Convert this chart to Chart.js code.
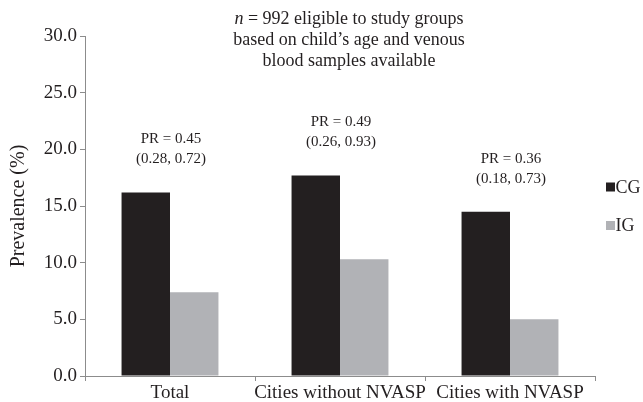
<!DOCTYPE html>
<html>
<head>
<meta charset="utf-8">
<script src="https://cdn.jsdelivr.net/npm/chart.js@4/dist/chart.umd.min.js"></script>
<style>
  html, body { margin: 0; padding: 0; background: #fff; }
  #wrap { width: 643px; height: 402px; }
</style>
</head>
<body>
<div id="wrap"><canvas id="myChart" width="643" height="402"></canvas></div>
<script>
// values
const categories = ['Total', 'Cities without NVASP', 'Cities with NVASP'];
const seriesNames = ['CG', 'IG'];
const cgValues = [16.2, 17.7, 14.5];
const igValues = [7.4, 10.3, 5.0];
const prLabels = ['PR = 0.45', 'PR = 0.49', 'PR = 0.36'];
const ciLabels = ['(0.28, 0.72)', '(0.26, 0.93)', '(0.18, 0.73)'];
const yTicks = [0, 5, 10, 15, 20, 25, 30];
const titleLines = ['= 992 eligible to study groups', 'based on child\u2019s age and venous', 'blood samples available'];

const serif = '"Liberation Serif", "Times New Roman", serif';
const ink = '#231f20';
const axisGrey = '#8c8c8c';

// title, PR annotations and legend drawn on top
const extras = {
    id: 'extras',
    afterDraw(chart) {
        const ctx = chart.ctx;
        const x = chart.scales.x, y = chart.scales.y;
        ctx.save();
        ctx.fillStyle = ink;
        ctx.textBaseline = 'middle';

        // title, first line starts with italic n
        const cx = 349;
        const rest = ' ' + titleLines[0];
        ctx.font = 'italic 18px ' + serif;
        const wn = ctx.measureText('n').width;
        ctx.font = '18px ' + serif;
        const wr = ctx.measureText(rest).width;
        let startX = cx - (wn + wr) / 2;
        ctx.textAlign = 'left';
        ctx.font = 'italic 18px ' + serif;
        ctx.fillText('n', startX, 19);
        ctx.font = '18px ' + serif;
        ctx.fillText(rest, startX + wn, 19);
        ctx.textAlign = 'center';
        ctx.fillText(titleLines[1], cx, 40);
        ctx.fillText(titleLines[2], cx, 61);

        // PR labels above each group
        ctx.font = '15px ' + serif;
        categories.forEach((c, i) => {
            const px = x.getPixelForValue(i);
            const top = y.getPixelForValue(Math.max(cgValues[i], igValues[i]));
            ctx.fillText(prLabels[i], px + 1, top - 53);
            ctx.fillText(ciLabels[i], px + 1, top - 33);
        });

        // legend at right
        ctx.textAlign = 'left';
        ctx.font = '18px ' + serif;
        chart.data.datasets.forEach((ds, i) => {
            const ly = 187 + i * 38.5;
            ctx.fillStyle = ds.backgroundColor;
            ctx.fillRect(606, ly - 4.5, 9, 9);
            ctx.fillStyle = ink;
            ctx.fillText(ds.label, 615.5, ly + 1);
        });
        ctx.restore();
    }
};

new Chart(document.getElementById('myChart'), {
    type: 'bar',
    data: {
        labels: categories,
        datasets: [
            { label: seriesNames[0], data: cgValues, backgroundColor: '#231f20' },
            { label: seriesNames[1], data: igValues, backgroundColor: '#b1b2b6' }
        ]
    },
    options: {
        responsive: false,
        animation: false,
        devicePixelRatio: 1,
        layout: { padding: { top: 36, right: 48, bottom: 0, left: 0 } },
        categoryPercentage: 0.57,
        barPercentage: 1.0,
        plugins: {
            legend: { display: false },
            tooltip: { enabled: false }
        },
        scales: {
            x: {
                afterFit: s => { s.height = 26; },
                grid: { offset: true, drawOnChartArea: false, tickLength: 5, color: axisGrey, lineWidth: 1 },
                border: { color: axisGrey, width: 1 },
                ticks: { color: ink, font: { family: serif, size: 19 }, padding: 1, maxRotation: 0, autoSkip: false }
            },
            y: {
                min: 0,
                max: 30,
                afterFit: s => { s.width = 85; },
                afterBuildTicks: s => { s.ticks = yTicks.map(v => ({ value: v })); },
                grid: { drawOnChartArea: false, tickLength: 5, color: axisGrey, lineWidth: 1 },
                border: { color: axisGrey, width: 1 },
                ticks: {
                    color: ink,
                    font: { family: serif, size: 19 },
                    padding: 3,
                    callback: v => v.toFixed(1)
                },
                title: {
                    display: true,
                    text: 'Prevalence (%)',
                    color: ink,
                    font: { family: serif, size: 20 },
                    padding: { top: 7, bottom: 0 }
                }
            }
        }
    },
    plugins: [extras]
});
</script>
</body>
</html>
